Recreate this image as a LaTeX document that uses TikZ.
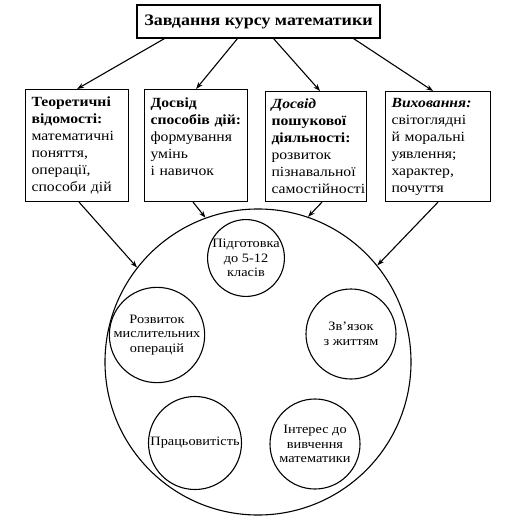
\documentclass[tikz,border=0pt]{standalone}
\usepackage{fontspec}
\usetikzlibrary{arrows.meta}
\setmainfont[FakeStretch=1.12]{Liberation Serif}
\tikzset{
  task/.style={draw, line width=1.1pt, anchor=north west, inner xsep=6pt, inner ysep=5pt,
    align=left, font=\fontsize{14}{17}\selectfont},
  topic/.style={draw, circle, line width=1.1pt, inner sep=0pt, align=center,
    font=\fontsize{12.8}{14.5}\selectfont},
}
\begin{document}
\begin{tikzpicture}[>={Stealth[length=7pt,width=5pt]}, x=1pt, y=-1pt, line width=1.1pt]
            \useasboundingbox (0,0) rectangle (521,529);

            \node[draw, line width=1.1pt, minimum width=243pt, minimum height=33pt,
                  font=\fontsize{16}{19}\selectfont\bfseries] (goal) at (258.5,21.5) {Завдання курсу математики};

            \node[task, text width=91pt, minimum height=112pt] (theory) at (25,89)
                {\textbf{Теоретичні}\\\textbf{відомості:}\\математичні\\поняття,\\операції,\\способи дій};
            \node[task, text width=91pt, minimum height=112pt] (skills) at (144,89)
                {\textbf{Досвід}\\\textbf{способів дій:}\\формування\\умінь\\і навичок\\\mbox{}};
            \node[task, text width=89pt, minimum height=110pt] (search) at (265,91)
                {\textbf{\textit{Досвід}}\\\textbf{пошукової}\\\textbf{діяльності:}\\розвиток\\пізнавальної\\самостійності};
            \node[task, text width=93pt, minimum height=110pt] (upbring) at (385,91)
                {\textbf{\textit{Виховання:}}\\світоглядні\\й моральні\\уявлення;\\характер,\\почуття};

            \node[circle, draw, minimum size=306pt] (whole) at (258,362) {};
            \node[topic, minimum size=72pt] (prep) at (246,258) {Підготовка\\до 5-12\\класів};
            \node[topic, minimum size=85pt] (think) at (157,335) {Розвиток\\мислительних\\операцій};
            \node[topic, minimum size=90pt] (life) at (351,334) {Зв’язок\\з життям};
            \node[topic, minimum size=93pt] (work) at (195,443) {Працьовитість};
            \node[topic, minimum size=90pt] (interest) at (315,444) {Інтерес до\\вивчення\\математики};

            \draw[->] ([xshift=-94pt]goal.south) -- (theory.north);
            \draw[->] ([xshift=-21pt]goal.south) -- (skills.north);
            \draw[->] ([xshift=15pt]goal.south) -- ([xshift=4pt]search.north);
            \draw[->] ([xshift=95pt]goal.south) -- ([xshift=-5pt]upbring.north);

            \draw[->] ([xshift=2pt]theory.south) -- (whole.142);
            \draw[->] ([xshift=-3pt]skills.south) -- (whole.110);
            \draw[->] ([xshift=6pt]search.south) -- (whole.71);
            \draw[->] (upbring.south) -- (whole.39);
        \end{tikzpicture}
\end{document}
